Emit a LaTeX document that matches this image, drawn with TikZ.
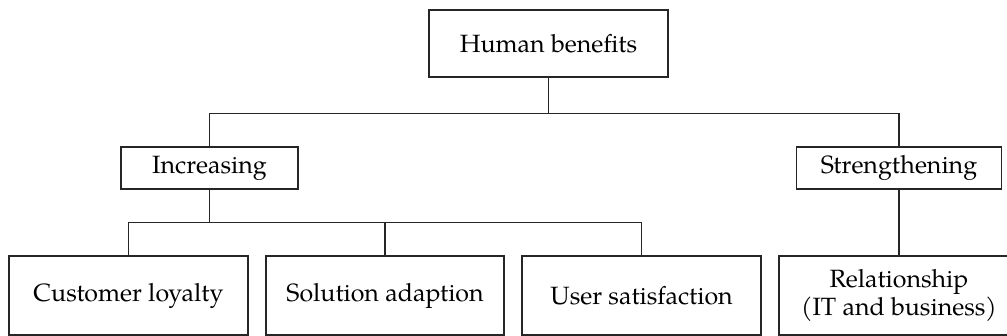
\documentclass[tikz,border=0pt]{standalone}
\usepackage{fontspec}
\setmainfont{TeX Gyre Pagella}
\begin{document}
\begin{tikzpicture}[x=1pt,y=1pt,
  box/.style={draw=black!85, line width=1.4pt, inner sep=0pt, align=center,
    font=\fontsize{25}{28}\selectfont},
  link/.style={draw=black!85, line width=1.4pt}]
\useasboundingbox (0,0) rectangle (1007,336);
\clip (0,0) rectangle (1007,336);

% root
\node[box, minimum width=239, minimum height=67] (top) at (548.5,292.5) {Human benefits};

% second level
\node[box, minimum width=177, minimum height=42] (inc) at (209.5,168) {Increasing};
\node[box, minimum width=205, minimum height=42] (str) at (899,168) {Strengthening};

% leaves
\node[box, minimum width=239, minimum height=79] (cust) at (128.5,40.5) {Customer loyalty};
\node[box, minimum width=238, minimum height=79] (sol)  at (385,40.5)   {Solution adaption};
\node[box, minimum width=239, minimum height=79] (user) at (641.5,40.5) {User satisfaction};
\node[box, minimum width=240, minimum height=79] (rel)  at (899,40.5)   {Relationship\\(IT and business)};

% connectors
\draw[link] (top.south) -- ++(0,-36) coordinate (j1);
\draw[link] (inc.north) |- (j1) -| (str.north);
\draw[link] (inc.south) -- ++(0,-33) coordinate (j2);
\draw[link] (cust.north) |- (j2) -| (user.north);
\draw[link] (sol.north) -- (sol.north |- j2);
\draw[link] (str.south) -- (str.south |- rel.north);
\end{tikzpicture}
\end{document}
